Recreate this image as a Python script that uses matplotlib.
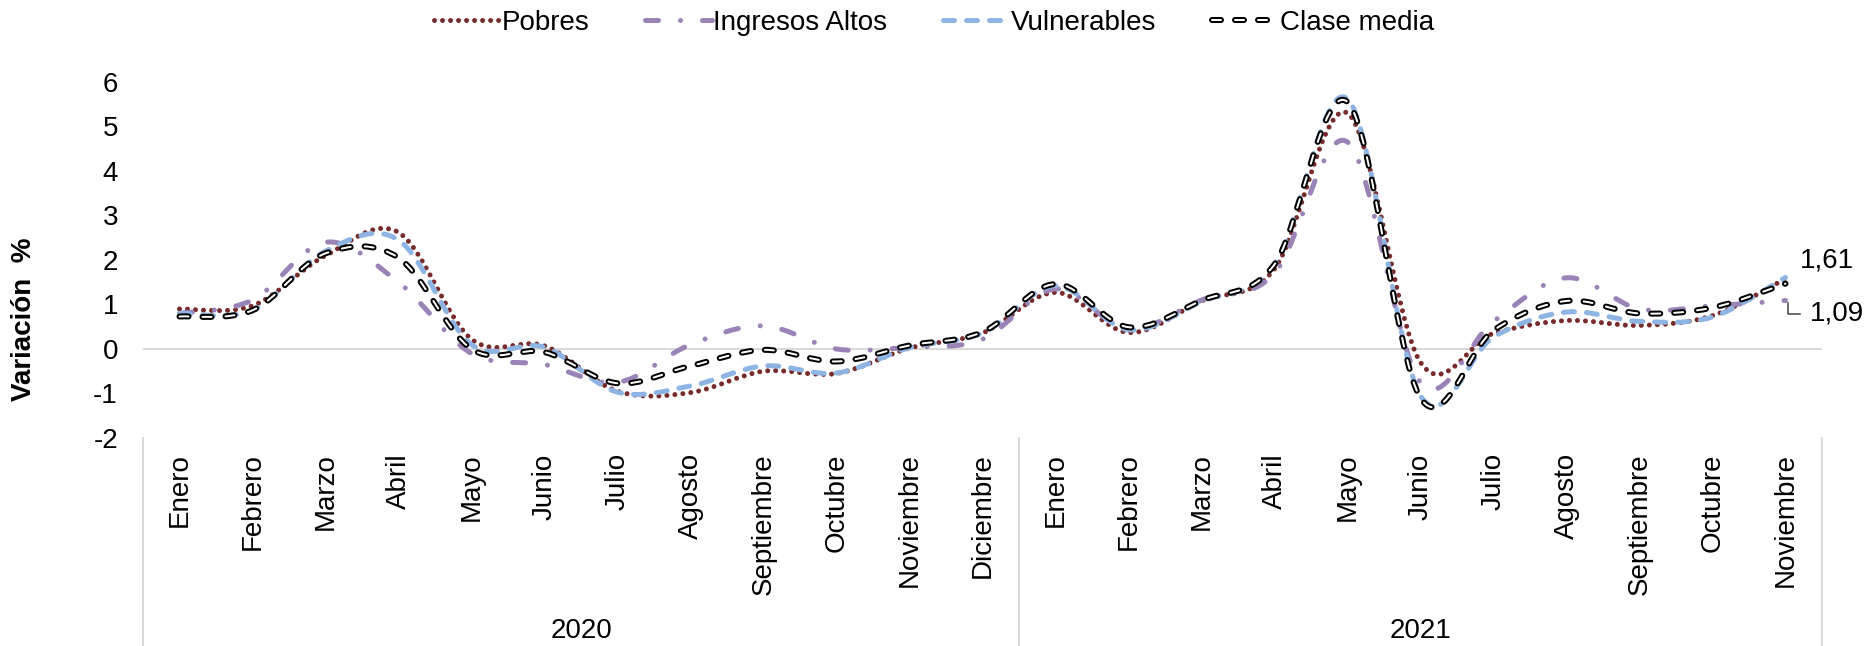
import numpy as np
import matplotlib
matplotlib.use("Agg")
import matplotlib.pyplot as plt
import matplotlib.transforms as mtransforms
import matplotlib.patheffects as pe
from matplotlib.path import Path
from matplotlib.patches import PathPatch
from matplotlib.lines import Line2D

plt.rcParams['font.family'] = ['Liberation Sans', 'DejaVu Sans']
plt.rcParams['lines.scale_dashes'] = False

# --- data ---
meses = ['Enero', 'Febrero', 'Marzo', 'Abril', 'Mayo', 'Junio', 'Julio', 'Agosto',
         'Septiembre', 'Octubre', 'Noviembre', 'Diciembre',
         'Enero', 'Febrero', 'Marzo', 'Abril', 'Mayo', 'Junio', 'Julio', 'Agosto',
         'Septiembre', 'Octubre', 'Noviembre']
anios = ['2020', '2021']
meses_por_anio = [12, 11]

pobres = [0.9, 0.97, 2.1, 2.62, 0.22, 0.07, -0.95, -0.98, -0.5, -0.55, 0.02, 0.36,
          1.27, 0.37, 1.08, 1.8, 5.3, -0.3, 0.35, 0.64, 0.53, 0.75, 1.58]
ingresos_altos = [0.8, 1.1, 2.4, 1.5, -0.1, -0.35, -0.75, 0.1, 0.52, 0.0, 0.04, 0.22,
                  1.35, 0.45, 1.1, 1.7, 4.65, -0.75, 0.62, 1.6, 0.9, 0.97, 1.09]
vulnerables = [0.8, 0.87, 2.2, 2.45, 0.1, 0.04, -0.97, -0.83, -0.38, -0.54, 0.03, 0.36,
               1.42, 0.43, 1.07, 1.9, 5.62, -1.05, 0.27, 0.83, 0.62, 0.72, 1.61]
clase_media = [0.73, 0.87, 2.15, 2.05, 0.0, -0.07, -0.77, -0.38, -0.02, -0.28, 0.08, 0.38,
               1.46, 0.49, 1.09, 1.9, 5.55, -1.1, 0.42, 1.08, 0.8, 0.93, 1.47]

PX = 0.72  # one pixel in points at dpi 100


def smooth_path(values):
    # smoothed line like the spreadsheet one: cubic bezier through each point
    x = np.arange(len(values), dtype=float)
    pts = np.column_stack([x, np.asarray(values, dtype=float)])
    ext = np.vstack([pts[0], pts, pts[-1]])
    verts = [pts[0]]
    codes = [Path.MOVETO]
    for i in range(len(pts) - 1):
        p0, p1, p2, p3 = ext[i], ext[i + 1], ext[i + 2], ext[i + 3]
        verts += [p1 + (p2 - p0) / 6, p2 - (p3 - p1) / 6, p2]
        codes += [Path.CURVE4] * 3
    return Path(verts, codes)


styles = {
    'Pobres': dict(color='#772B2B', lw=5 * PX, ls=(0, (0.01, 8 * PX))),
    'Ingresos Altos': dict(color='#9983B7', lw=5 * PX,
                           ls=(0, (13 * PX, 22 * PX, 0.01, 22 * PX))),
    'Vulnerables': dict(color='#8DB4E2', lw=5 * PX, ls=(0, (11 * PX, 12 * PX))),
}
series = [('Pobres', pobres), ('Ingresos Altos', ingresos_altos),
          ('Vulnerables', vulnerables)]

fig = plt.figure(figsize=(18.68, 6.46), dpi=100)
ax = fig.add_axes([143 / 1868, 1 - 438 / 646, (1822 - 143) / 1868, (438 - 82) / 646])

ax.axhline(0, color='#D9D9D9', lw=2 * PX, zorder=1)

for z, (name, vals) in enumerate(series):
    st = styles[name]
    ax.add_patch(PathPatch(smooth_path(vals), fill=False, edgecolor=st['color'],
                           lw=st['lw'], linestyle=st['ls'], capstyle='round',
                           joinstyle='round', zorder=3 + z))

# Clase media: black dashes with a white core
black_ls = (0, (9 * PX, 14 * PX))
ax.add_patch(PathPatch(smooth_path(clase_media), fill=False, edgecolor='black',
                       lw=6 * PX, linestyle=black_ls, capstyle='round', zorder=7))
ax.add_patch(PathPatch(smooth_path(clase_media), fill=False, edgecolor='white',
                       lw=2 * PX, linestyle=black_ls, capstyle='round', zorder=8))

n = len(meses)
ax.set_xlim(-0.5, n - 0.5)
ax.set_ylim(-2, 6)
ax.set_yticks(range(-2, 7))
ax.set_yticklabels([str(v) for v in range(-2, 7)])
ax.set_xticks(range(n))
ax.set_xticklabels(meses, rotation=90)
ax.tick_params(axis='y', length=0, pad=18, labelsize=20)
ax.tick_params(axis='x', length=0, pad=11, labelsize=20)
for s in ax.spines.values():
    s.set_visible(False)

# group separators and year labels under the axis
trans = mtransforms.blended_transform_factory(ax.transData, ax.transAxes)
bounds = np.concatenate([[0], np.cumsum(meses_por_anio)]) - 0.5
for b in bounds:
    ax.plot([b, b], [0, -0.59], transform=trans, color='#D9D9D9', lw=2 * PX,
            clip_on=False)
for i, anio in enumerate(anios):
    ax.text((bounds[i] + bounds[i + 1]) / 2, -0.542, anio, transform=trans,
            ha='center', va='center', fontsize=20)

# data labels at the last month
last = n - 1
ax.text(last + 0.2, vulnerables[-1] + 0.38, '1,61', ha='left', va='center',
        fontsize=20, clip_on=False)
lab_y = ingresos_altos[-1] - 0.3
ax.text(last + 0.34, lab_y, '1,09', ha='left', va='center', fontsize=20,
        clip_on=False)
ax.plot([last + 0.03, last + 0.03, last + 0.2],
        [ingresos_altos[-1] - 0.05, lab_y, lab_y],
        color='#404040', lw=1.5 * PX, clip_on=False)

fig.text(24 / 1868, 1 - 319 / 646, 'Variación  %', rotation=90, ha='center',
         va='center', fontsize=20, fontweight='bold')

# legend
handles = []
for name, _ in series:
    st = styles[name]
    handles.append(Line2D([], [], color=st['color'], lw=st['lw'], linestyle=st['ls'],
                          dash_capstyle='round'))
leg_ls = (0, (9 * PX, 14 * PX))
handles.append(Line2D([], [], color='white', lw=2 * PX, linestyle=leg_ls,
                      dash_capstyle='round',
                      path_effects=[pe.Stroke(linewidth=6 * PX, foreground='black'),
                                    pe.Normal()]))
labels = ['Pobres', 'Ingresos Altos', 'Vulnerables', 'Clase media']
fig.legend(handles, labels, loc='center', bbox_to_anchor=(0.5, 1 - 23 / 646),
           ncol=4, frameon=False, fontsize=20, handlelength=2.4,
           handletextpad=0.05, columnspacing=2.0)

fig.savefig('out.png', dpi=100)
